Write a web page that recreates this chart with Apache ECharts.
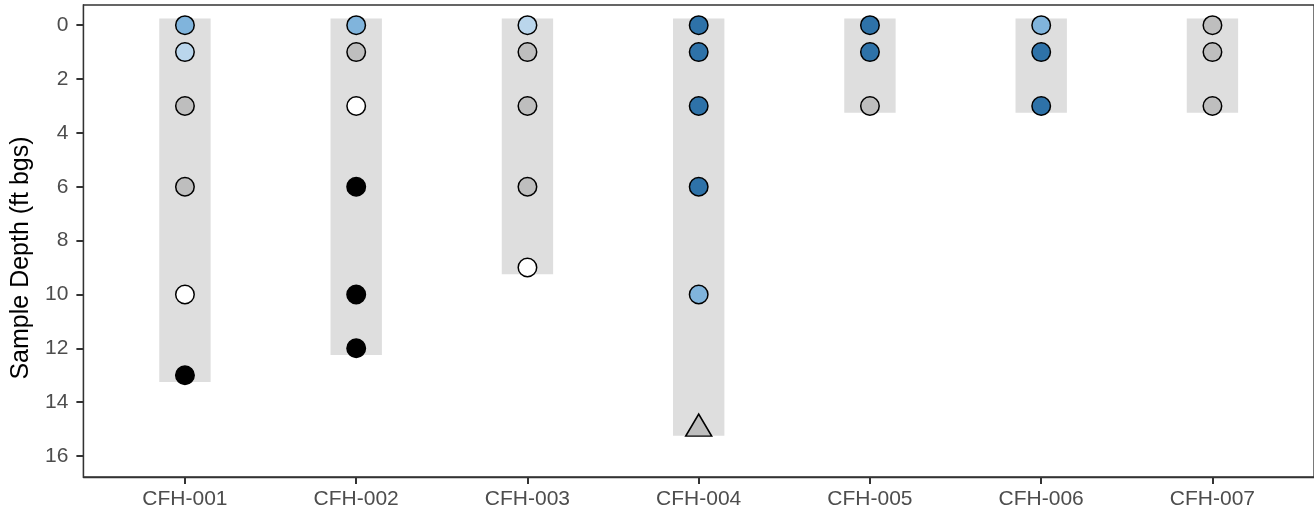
<!DOCTYPE html>
<html>
<head>
<meta charset="utf-8">
<script src="https://cdn.jsdelivr.net/npm/echarts@6/dist/echarts.min.js"></script>
<style>
html,body{margin:0;padding:0;background:#fff;}
#chart{width:1314px;height:516px;}
</style>
</head>
<body>
<div id="chart"></div>
<script>
// ---- data ----
const categories = ['CFH-001','CFH-002','CFH-003','CFH-004','CFH-005','CFH-006','CFH-007'];
const boreholeTop = -0.25;
const boreholeBottoms = [13.25, 12.25, 9.25, 15.25, 3.25, 3.25, 3.25];
const sampleDepths = [
  [0, 1, 3, 6, 10, 13],
  [0, 1, 3, 6, 10, 12],
  [0, 1, 3, 6, 9],
  [0, 1, 3, 6, 10, 15],
  [0, 1, 3],
  [0, 1, 3],
  [0, 1, 3]
];
const sampleClasses = [
  ['mid', 'light', 'gray', 'gray', 'white', 'black'],
  ['mid', 'gray', 'white', 'black', 'black', 'black'],
  ['light', 'gray', 'gray', 'gray', 'white'],
  ['dark', 'dark', 'dark', 'dark', 'mid', 'grayTri'],
  ['dark', 'dark', 'gray'],
  ['mid', 'dark', 'dark'],
  ['gray', 'gray', 'gray']
];
const yTicks = [0, 2, 4, 6, 8, 10, 12, 14, 16];
const yTitle = 'Sample Depth (ft bgs)';

// ---- styles ----
const classStyle = {
  light:   {color: '#BAD6EC', symbol: 'circle'},
  mid:     {color: '#80B4DC', symbol: 'circle'},
  dark:    {color: '#2E72A8', symbol: 'circle'},
  gray:    {color: '#BEBEBE', symbol: 'circle'},
  white:   {color: '#FFFFFF', symbol: 'circle'},
  black:   {color: '#000000', symbol: 'circle'},
  grayTri: {color: '#BEBEBE', symbol: 'triangle'}
};

const barData = boreholeBottoms.map((b, i) => [i, boreholeTop, b]);

const series = [{
  type: 'custom',
  data: barData,
  encode: {x: 0, y: [1, 2]},
  renderItem: function (params, api) {
    const x = api.value(0);
    const p1 = api.coord([x, api.value(1)]);
    const p2 = api.coord([x, api.value(2)]);
    const w = api.size([0.3, 0])[0];
    return {
      type: 'rect',
      shape: {x: p1[0] - w / 2, y: p1[1], width: w, height: p2[1] - p1[1]},
      style: {fill: '#DEDEDE'}
    };
  },
  silent: true,
  z: 1
}];

Object.keys(classStyle).forEach(key => {
  const pts = [];
  sampleDepths.forEach((arr, i) => {
    arr.forEach((d, j) => {
      if (sampleClasses[i][j] === key) pts.push([i, d]);
    });
  });
  if (!pts.length) return;
  const st = classStyle[key];
  const isTri = st.symbol === 'triangle';
  series.push({
    type: 'scatter',
    data: pts,
    symbol: st.symbol,
    symbolSize: isTri ? [26, 22] : 18.5,
    symbolOffset: isTri ? [0, -4] : [0, 0],
    itemStyle: {color: st.color, borderColor: '#000', borderWidth: 1.5, opacity: 1},
    emphasis: {disabled: true},
    z: 3
  });
});

const chart = echarts.init(document.getElementById('chart'), null, {renderer: 'canvas'});
chart.setOption({
  animation: false,
  backgroundColor: '#fff',
  textStyle: {fontFamily: 'Liberation Sans, Arial, sans-serif'},
  grid: {left: 83.4, top: 5, right: -0.6, bottom: 39, show: true, borderColor: '#333333', borderWidth: 1.3, backgroundColor: 'transparent'},
  graphic: [{
    type: 'text',
    x: 21, y: 258,
    rotation: Math.PI / 2,
    style: {text: yTitle, fill: '#000', font: '25px "Liberation Sans", Arial, sans-serif', align: 'center', verticalAlign: 'middle'}
  }],
  xAxis: {
    type: 'value',
    min: -0.593, max: 6.593,
    splitLine: {show: false},
    axisLine: {show: true, onZero: false, lineStyle: {color: '#333333', width: 1.3}},
    axisTick: {show: true, customValues: categories.map((c, i) => i), length: 7, lineStyle: {color: '#333333', width: 2}},
    axisLabel: {
      customValues: categories.map((c, i) => i),
      formatter: v => categories[Math.round(v)] || '',
      color: '#4D4D4D', fontSize: 21, margin: 12
    }
  },
  yAxis: {
    type: 'value',
    inverse: true,
    min: -0.75, max: 16.78,
    splitLine: {show: false},
    axisLine: {show: true, onZero: false, lineStyle: {color: '#333333', width: 1.3}},
    axisTick: {show: true, customValues: yTicks, length: 7, lineStyle: {color: '#333333', width: 2}},
    axisLabel: {customValues: yTicks, color: '#4D4D4D', fontSize: 21, margin: 15}
  },
  series: series
});
</script>
</body>
</html>
